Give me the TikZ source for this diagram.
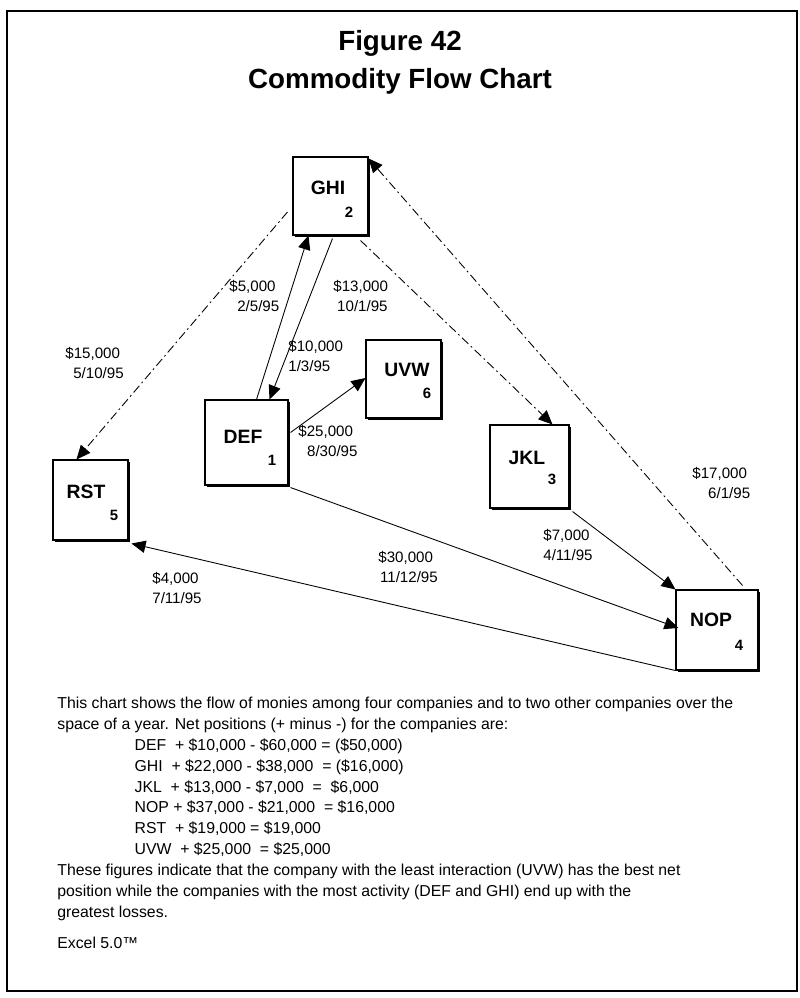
\documentclass[tikz,border=0pt]{standalone}
\usepackage{fontspec}
\setmainfont{Liberation Sans}
\usetikzlibrary{arrows.meta,calc,shadows}

\begin{document}
\begin{tikzpicture}[x=0.02cm, y=-0.02cm,
  firm/.style={draw, fill=white, line width=0.6pt, inner sep=0pt,
    drop shadow={shadow xshift=1.2pt, shadow yshift=-1.2pt, fill=black, opacity=1}},
  firmname/.style={font=\fontsize{11}{13}\selectfont\bfseries, inner sep=0pt},
  firmnum/.style={font=\fontsize{8.5}{10}\selectfont\bfseries, inner sep=0pt},
  amount/.style={font=\fontsize{8.6}{11.4}\selectfont, align=left, inner sep=0pt, anchor=north west},
  flow/.style={-{Triangle[length=8pt,width=7pt]}, line width=0.5pt},
  dashflow/.style={flow, dash pattern=on 5pt off 2pt on 1pt off 2pt}]

\useasboundingbox (0,0) rectangle (800,998);
\draw[line width=1.1pt] (7,11) rectangle (797,991);

% title
\node[font=\fontsize{15.8}{21.5}\selectfont\bfseries, align=center] (title) at (400,62)
  {Figure 42\\Commodity Flow Chart};

% companies
\node[firm, minimum width=1.5cm, minimum height=1.56cm] (ghi) at (330.5,196) {};
\node[firm, minimum width=1.5cm, minimum height=1.56cm] (uvw) at (403.5,379) {};
\node[firm, minimum width=1.66cm, minimum height=1.7cm] (def) at (246.5,442.5) {};
\node[firm, minimum width=1.58cm, minimum height=1.66cm] (jkl) at (529.5,466.5) {};
\node[firm, minimum width=1.5cm, minimum height=1.6cm] (rst) at (90.5,500) {};
\node[firm, minimum width=1.64cm, minimum height=1.6cm] (nop) at (717,630) {};

\node[firmname] (ghi-name) at (328,188) {GHI};
\node[firmnum] (ghi-num) at (349,212) {2};
\node[firmname] (uvw-name) at (407,370) {UVW};
\node[firmnum] (uvw-num) at (427,393) {6};
\node[firmname] (def-name) at (243,437) {DEF};
\node[firmnum] (def-num) at (272,460) {1};
\node[firmname] (jkl-name) at (527,458) {JKL};
\node[firmnum] (jkl-num) at (552,479) {3};
\node[firmname] (rst-name) at (86,492) {RST};
\node[firmnum] (rst-num) at (114,515) {5};
\node[firmname] (nop-name) at (711,620) {NOP};
\node[firmnum] (nop-num) at (739,645) {4};

% payments
\draw[dashflow] ($(ghi.west)+(-5,16)$) -- ($(rst.north west)+(24,0)$);
\draw[flow] ($(def.north)+(10,0)$) -- ($(ghi.south west)+(16,0)$);
\draw[flow] ($(ghi.south)+(2,3)$) -- ($(def.north)+(23,0)$);
\draw[dashflow] ($(ghi.south east)+(-8,5)$) -- ($(jkl.north)+(23,0)$);
\draw[flow] ($(def.east)+(2,-10)$) -- ($(uvw.west)+(0,-1)$);
\draw[flow] ($(def.south east)+(2,2)$) -- ($(nop.west)+(3,-2)$);
\draw[flow] ($(jkl.south east)+(3,3)$) -- (nop.north west);
\draw[dashflow] ($(nop.north east)+(-16,-4)$) -- ($(ghi.north east)+(0,2)$);
\draw[flow] (nop.south west) -- ($(rst.south east)+(3,3)$);

\node[amount] (lab-rst) at (65,347) {\$15,000\\\hspace*{4.5pt}5/10/95};
\node[amount] (lab-ghi) at (229,280) {\$5,000\\\hspace*{4.5pt}2/5/95};
\node[amount] (lab-jkl) at (333,280) {\$13,000\\\hspace*{2.2pt}10/1/95};
\node[amount] (lab-def) at (288,340) {\$10,000\\1/3/95};
\node[amount] (lab-uvw) at (298,425) {\$25,000\\\hspace*{5pt}8/30/95};
\node[amount] (lab-nop) at (378,551) {\$30,000\\\hspace*{1pt}11/12/95};
\node[amount] (lab-back) at (152,572) {\$4,000\\7/11/95};
\node[amount] (lab-jn) at (543,529) {\$7,000\\4/11/95};
\node[amount] (lab-ng) at (692,467) {\$17,000\\\hspace*{9pt}6/1/95};

% notes
\node[font=\fontsize{9}{11.85}\selectfont, align=left, inner sep=0pt, anchor=north west] (notes) at (57,697)
  {This chart shows the flow of monies among four companies and to two other companies over the\\
   space of a year. Net positions (+ minus -) for the companies are:\\
   \hspace*{44pt}DEF\ \ + \$10,000 - \$60,000 = (\$50,000)\\
   \hspace*{44pt}GHI\ \ + \$22,000 - \$38,000\ \ = (\$16,000)\\
   \hspace*{44pt}JKL\ \ + \$13,000 - \$7,000\ \ =\ \ \$6,000\\
   \hspace*{44pt}NOP + \$37,000 - \$21,000\ \ = \$16,000\\
   \hspace*{44pt}RST\ \ + \$19,000 = \$19,000\\
   \hspace*{44pt}UVW\ \ + \$25,000\ \ = \$25,000\\
   These figures indicate that the company with the least interaction (UVW) has the best net\\
   position while the companies with the most activity (DEF and GHI) end up with the\\
   greatest losses.\\[6pt]
   Excel 5.0™};
\end{tikzpicture}
\end{document}
